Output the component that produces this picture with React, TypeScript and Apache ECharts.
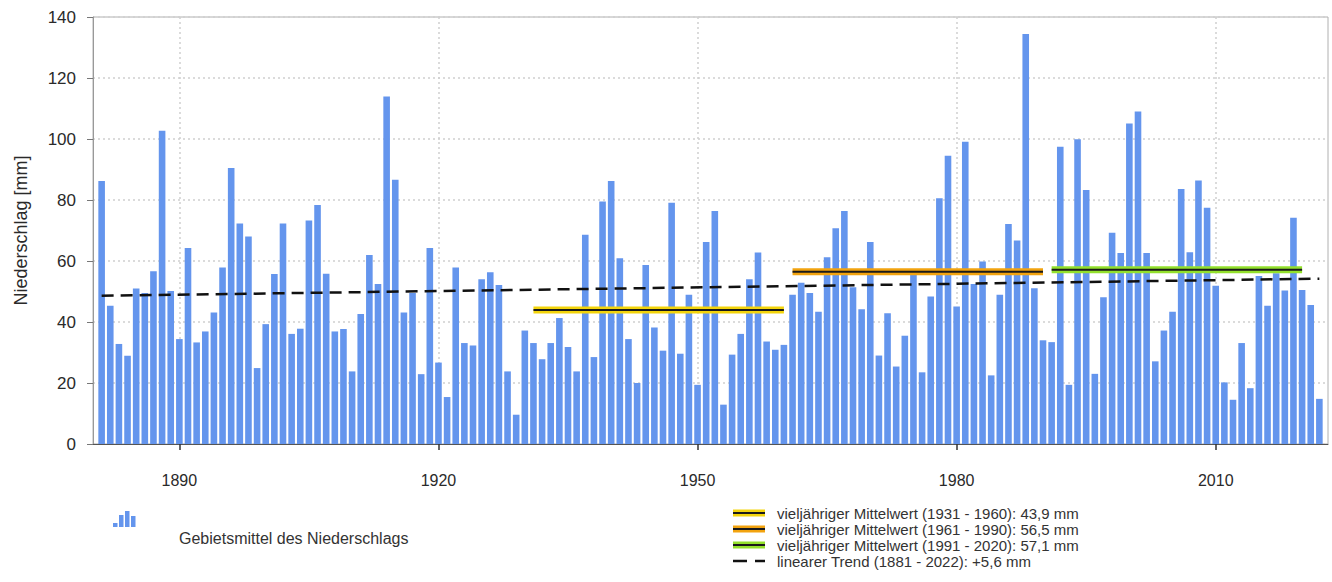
import { useEffect, useRef } from "react";
import * as echarts from "echarts";

// Area-mean precipitation per year, 1881 – 2022 (mm)
const firstYear = 1881;
const lastYear = 2022;
const precipitation: number[] = [
  // 1881 – 1904
  86.2, 45.3, 32.8, 28.9, 51.0, 49.5, 56.6, 102.7, 50.2, 34.4, 64.3, 33.3,
  36.9, 43.1, 57.9, 90.5, 72.3, 68.0, 24.9, 39.3, 55.7, 72.3, 36.1, 37.8,
  // 1905 – 1928
  73.3, 78.4, 55.8, 36.9, 37.7, 23.8, 42.6, 62.0, 52.5, 113.9, 86.6, 43.1,
  49.5, 22.9, 64.3, 26.7, 15.4, 57.9, 33.1, 32.3, 54.0, 56.3, 52.1, 23.8,
  // 1929 – 1951
  9.6, 37.2, 33.1, 27.8, 33.1, 41.3, 31.8, 23.8, 68.6, 28.5, 79.5, 86.2,
  60.9, 34.4, 20.0, 58.7, 38.2, 30.6, 79.1, 29.6, 48.9, 19.4, 66.2,
  // 1952 – 1975
  76.4, 12.9, 29.3, 36.1, 54.0, 62.8, 33.6, 30.9, 32.5, 48.9, 52.9, 49.5,
  43.4, 61.2, 70.7, 76.4, 51.4, 44.2, 66.2, 29.0, 42.9, 25.4, 35.5, 55.7,
  // 1976 – 1998
  23.5, 48.4, 80.6, 94.5, 45.1, 99.1, 52.5, 59.8, 22.5, 48.9, 72.1, 66.7,
  134.4, 51.1, 34.0, 33.4, 97.5, 19.4, 99.9, 83.3, 23.0, 48.1, 69.3,
  // 1999 – 2022
  62.6, 105.1, 109.0, 62.6, 27.1, 37.2, 43.4, 83.6, 62.9, 86.4, 77.5, 51.9,
  20.2, 14.5, 33.1, 18.3, 55.1, 45.3, 56.0, 50.3, 74.2, 50.5, 45.6, 14.8,
];

// Long-term means (reference periods)
const periodStart = [1931, 1961, 1991];
const periodEnd = [1960, 1990, 2020];
const periodMean = [43.9, 56.5, 57.1];
const periodColor = ["#f3d40c", "#f2a30f", "#93e02c"];
const periodLabel = [
  "vieljähriger Mittelwert (1931 - 1960): 43,9 mm",
  "vieljähriger Mittelwert (1961 - 1990): 56,5 mm",
  "vieljähriger Mittelwert (1991 - 2020): 57,1 mm",
];

// Linear trend over the whole series
const trendStartValue = 48.6;
const trendChange = 5.6;
const trendLabel = "linearer Trend (1881 - 2022): +5,6 mm";

const barLabel = "Gebietsmittel des Niederschlags";
const yAxisName = "Niederschlag [mm]";

// Axis runs one year beyond the data on each side
const axisYears: string[] = [];
for (let y = firstYear - 1; y <= lastYear + 1; y++) axisYears.push(String(y));

const FONT = "'Liberation Sans', Arial, Helvetica, sans-serif";
const BAR_BLUE = "#6495ed";
const isDecadeTick = (_i: number, v: string) => Number(v) % 30 === 0;

export default function App() {
  const ref = useRef<HTMLDivElement>(null);

  useEffect(() => {
    if (!ref.current) return;
    const chart = echarts.init(ref.current, undefined, { renderer: "svg" });

    const idx = (year: number) => year - (firstYear - 1);
    const barData = axisYears.map((y) => {
      const year = Number(y);
      return year >= firstYear && year <= lastYear ? precipitation[year - firstYear] : null;
    });

    const meanSeries: any[] = [];
    periodMean.forEach((m, i) => {
      const data = [
        [idx(periodStart[i]), m],
        [idx(periodEnd[i]), m],
      ];
      meanSeries.push({
        type: "line",
        data,
        symbol: "none",
        silent: true,
        z: 3,
        lineStyle: { color: periodColor[i], width: 7, cap: "butt" },
      });
      meanSeries.push({
        type: "line",
        data,
        symbol: "none",
        silent: true,
        z: 4,
        lineStyle: { color: "#1a1a1a", width: 2 },
      });
    });

    const legendRowY = [513, 529, 545, 561];
    const legendGraphics: any[] = [];
    // bar legend icon
    const iconBars = [
      { x: 113, h: 4 },
      { x: 119, h: 12 },
      { x: 125, h: 16 },
      { x: 131, h: 11 },
    ];
    iconBars.forEach((b) =>
      legendGraphics.push({
        type: "rect",
        shape: { x: b.x, y: 527 - b.h, width: 4.5, height: b.h },
        style: { fill: BAR_BLUE },
        silent: true,
      })
    );
    legendGraphics.push({
      type: "text",
      x: 179,
      y: 538,
      style: { text: barLabel, font: `16px ${FONT}`, fill: "#333", verticalAlign: "middle" },
      silent: true,
    });
    periodLabel.forEach((label, i) => {
      const y = legendRowY[i];
      legendGraphics.push({
        type: "line",
        shape: { x1: 733, y1: y, x2: 765, y2: y },
        style: { stroke: periodColor[i], lineWidth: 7 },
        silent: true,
      });
      legendGraphics.push({
        type: "line",
        shape: { x1: 733, y1: y, x2: 765, y2: y },
        style: { stroke: "#1a1a1a", lineWidth: 2 },
        silent: true,
      });
      legendGraphics.push({
        type: "text",
        x: 777,
        y,
        style: { text: label, font: `15px ${FONT}`, fill: "#333", verticalAlign: "middle" },
        silent: true,
      });
    });
    legendGraphics.push({
      type: "line",
      shape: { x1: 733, y1: legendRowY[3], x2: 765, y2: legendRowY[3] },
      style: { stroke: "#111", lineWidth: 2.5, lineDash: [14, 8] },
      silent: true,
    });
    legendGraphics.push({
      type: "text",
      x: 777,
      y: legendRowY[3],
      style: { text: trendLabel, font: `15px ${FONT}`, fill: "#333", verticalAlign: "middle" },
      silent: true,
    });

    chart.setOption({
      animation: false,
      backgroundColor: "#ffffff",
      textStyle: { fontFamily: FONT },
      grid: {
        left: 93,
        right: 4,
        top: 17,
        bottom: 138,
        show: true,
        borderColor: "#b0b0b0",
        borderWidth: 1,
        backgroundColor: "transparent",
      },
      xAxis: {
        type: "category",
        data: axisYears,
        boundaryGap: false,
        axisLine: { lineStyle: { color: "#555", width: 1 } },
        axisTick: {
          interval: isDecadeTick,
          length: 6,
          lineStyle: { color: "#333", width: 1.5 },
        },
        axisLabel: {
          interval: isDecadeTick,
          fontSize: 16,
          color: "#2a2a2a",
          margin: 28,
          fontFamily: FONT,
        },
        splitLine: {
          show: true,
          interval: isDecadeTick,
          lineStyle: { color: "#cfcfcf", width: 1.5, type: [2, 3] },
        },
      },
      yAxis: {
        type: "value",
        min: 0,
        max: 140,
        interval: 20,
        name: yAxisName,
        nameLocation: "middle",
        nameGap: 63,
        nameTextStyle: { fontSize: 18, color: "#2a2a2a", fontFamily: FONT },
        axisLine: { show: true, lineStyle: { color: "#999" } },
        axisTick: { show: true, length: 6, lineStyle: { color: "#777" } },
        axisLabel: { fontSize: 17, color: "#2a2a2a", margin: 17, fontFamily: FONT },
        splitLine: { lineStyle: { color: "#cfcfcf", width: 1.5, type: [2, 3] } },
      },
      series: [
        {
          type: "bar",
          data: barData,
          barWidth: 6.6,
          silent: true,
          z: 2,
          itemStyle: { color: BAR_BLUE },
        },
        ...meanSeries,
        {
          type: "line",
          data: [
            [idx(firstYear), trendStartValue],
            [idx(lastYear), trendStartValue + trendChange],
          ],
          symbol: "none",
          silent: true,
          z: 5,
          lineStyle: { color: "#111", width: 2.5, type: [12, 7] },
        },
      ],
      graphic: legendGraphics,
    });

    return () => chart.dispose();
  }, []);

  return (
    <div
      ref={ref}
      style={{ position: "absolute", left: 0, top: 0, width: 1332, height: 582 }}
    />
  );
}
